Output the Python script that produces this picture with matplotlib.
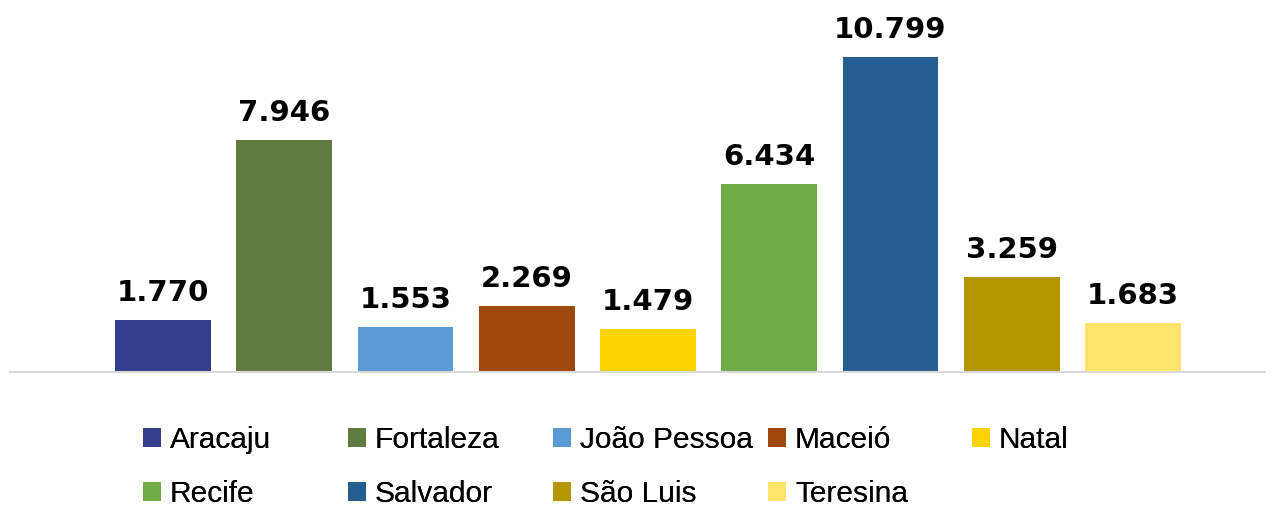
import matplotlib.pyplot as plt
from matplotlib.patches import Patch

cities = ["Aracaju", "Fortaleza", "João Pessoa", "Maceió", "Natal",
          "Recife", "Salvador", "São Luis", "Teresina"]
values = [1770, 7946, 1553, 2269, 1479, 6434, 10799, 3259, 1683]
colors = ['#333F8C', '#607B3F', '#5B9BD5', '#9E480E', '#FFD300',
          '#70AD47', '#255E91', '#B49700', '#FFE36A']

W, H = 1273, 507
fig = plt.figure(figsize=(W / 100, H / 100), dpi=100)
ax = fig.add_axes([10 / W, (H - 372) / H, 1255 / W, 372 / H])

x = list(range(len(values)))
bars = ax.bar(x, values, width=0.79, color=colors)

for b, v in zip(bars, values):
    label = f"{v:,}".replace(",", ".")
    ax.annotate(label, (b.get_x() + b.get_width() / 2, b.get_height()),
                xytext=(0, 9.5), textcoords='offset points',
                ha='center', va='bottom', fontsize=21, fontweight='heavy',
                family='DejaVu Sans')

ax.set_xlim(-1.262, 9.089)
ax.set_ylim(0, 12753)
for s in ['top', 'left', 'right']:
    ax.spines[s].set_visible(False)
ax.spines['bottom'].set_color('#d9d9d9')
ax.spines['bottom'].set_linewidth(1.5)
ax.set_xticks([])
ax.set_yticks([])

# legend laid out as equal-width columns, row-major like the original
handles = [Patch(facecolor=c, edgecolor='none') for c in colors]
col_x = [143, 348, 553, 768, 972]
ncol = 5
for j, cx in enumerate(col_x):
    idx = [i for i in (j, j + ncol) if i < len(cities)]
    leg = fig.legend([handles[i] for i in idx], [cities[i] for i in idx],
                     loc='upper left', bbox_to_anchor=(cx / W, 1 - 426 / H),
                     frameon=False, borderpad=0, borderaxespad=0,
                     handlelength=0.6, handleheight=0.6, handletextpad=0.3,
                     labelspacing=0.88,
                     prop={'family': 'Liberation Sans', 'size': 21.5})
    fig.add_artist(leg)

fig.savefig('out.png', dpi=100)
